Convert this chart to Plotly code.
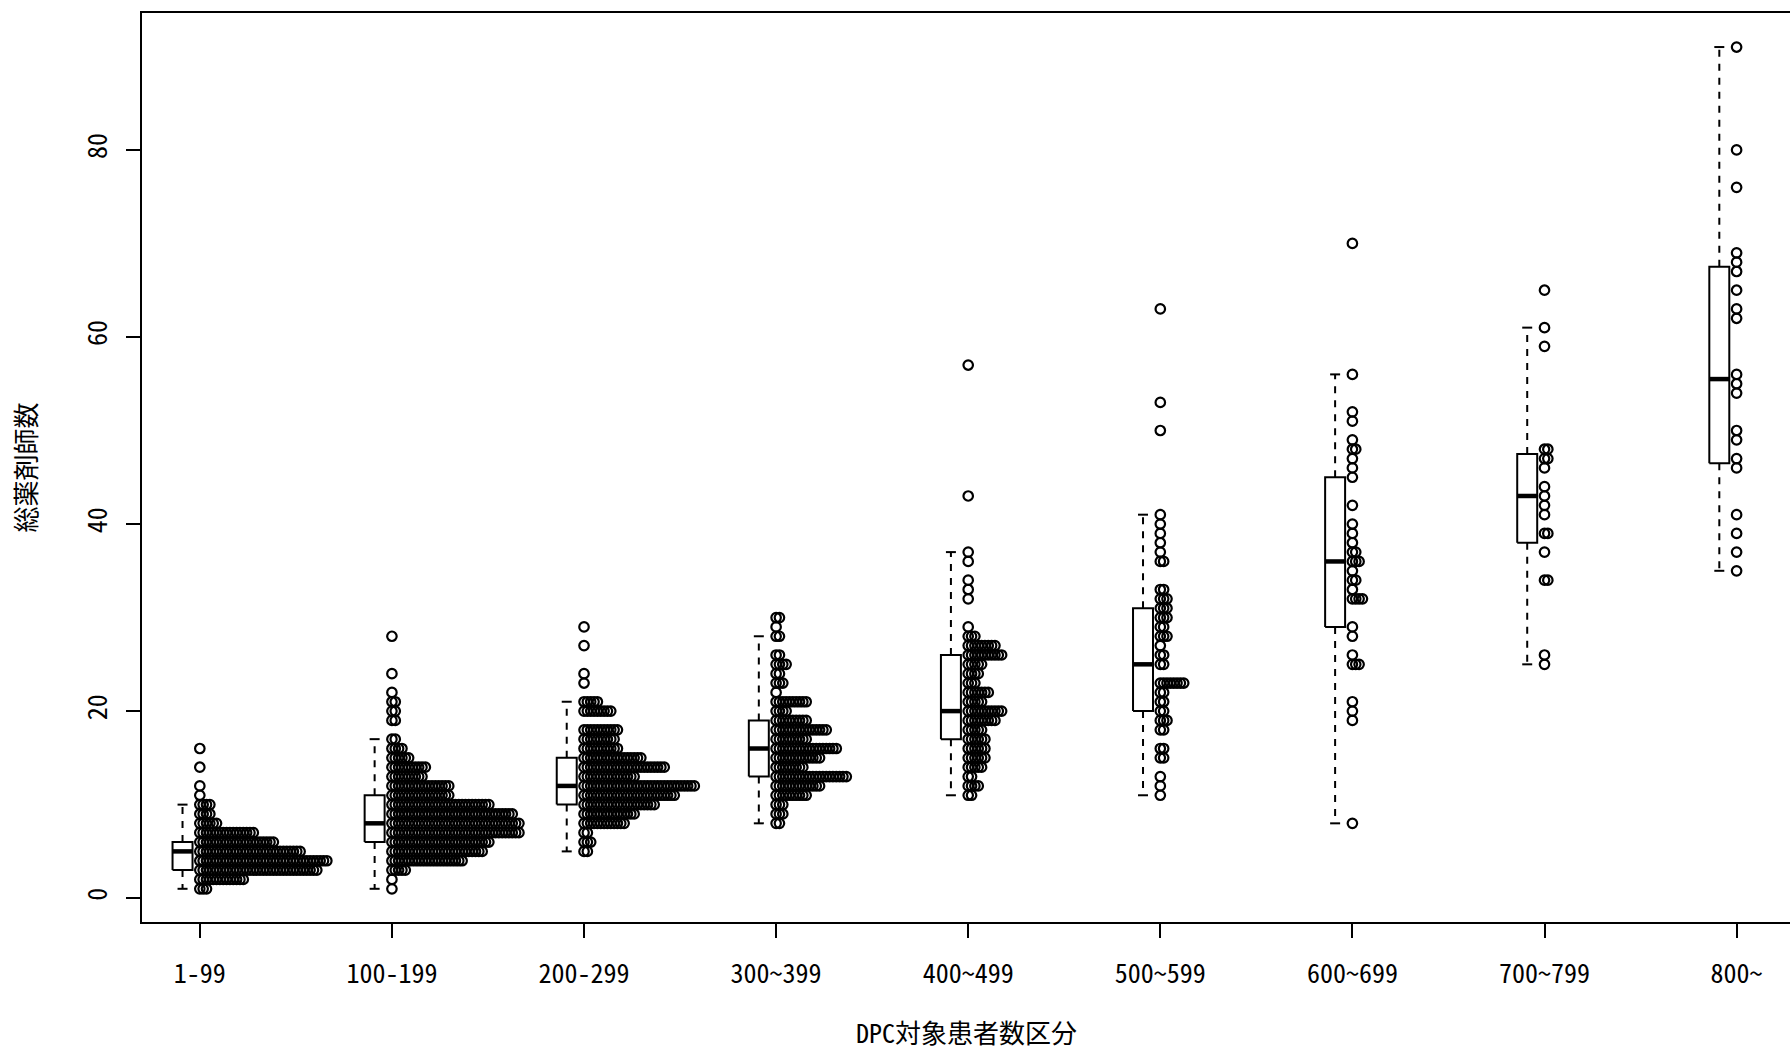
import plotly.graph_objects as go

# ---------------- data ----------------
categories = ["1-99", "100-199", "200-299", "300~399", "400~499",
              "500~599", "600~699", "700~799", "800~"]
positions = [1, 2, 3, 4, 5, 6, 7, 8, 9]

g1_values = [1, 2, 3, 4, 5, 6, 7, 8, 9, 10, 11, 12, 14, 16]
g1_counts = [3, 14, 36, 39, 31, 23, 17, 6, 4, 4, 1, 1, 1, 1]

g2_values = [1, 2, 3, 4, 5, 6, 7, 8, 9, 10, 11, 12, 13, 14, 15, 16, 17, 19, 20, 21, 22, 24, 28]
g2_counts = [1, 1, 5, 22, 28, 30, 39, 39, 37, 30, 18, 18, 10, 11, 6, 4, 2, 2, 2, 2, 1, 1, 1]

g3_values = [5, 6, 7, 8, 9, 10, 11, 12, 13, 14, 15, 16, 17, 18, 20, 21, 23, 24, 27, 29]
g3_counts = [2, 3, 2, 13, 16, 22, 28, 34, 16, 25, 18, 11, 10, 11, 9, 5, 1, 1, 1, 1]

g4_values = [8, 9, 10, 11, 12, 13, 14, 15, 16, 17, 18, 19, 20, 21, 22, 23, 24, 25, 26, 28, 29, 30]
g4_counts = [2, 3, 3, 10, 14, 22, 9, 14, 19, 10, 16, 10, 4, 10, 1, 3, 2, 4, 2, 2, 1, 2]

g5_values = [11, 12, 13, 14, 15, 16, 17, 18, 19, 20, 21, 22, 23, 24, 25, 26, 27, 28, 29,
             32, 33, 34, 36, 37, 43, 57]
g5_counts = [2, 4, 2, 5, 6, 6, 6, 5, 9, 11, 5, 7, 3, 4, 5, 11, 9, 3, 1,
             1, 1, 1, 1, 1, 1, 1]

g6_values = [11, 12, 13, 15, 16, 18, 19, 20, 21, 22, 23, 25, 26, 27, 28, 29, 30, 31, 32, 33,
             36, 37, 38, 39, 40, 41, 50, 53, 63]
g6_counts = [1, 1, 1, 2, 2, 2, 3, 2, 2, 2, 8, 2, 2, 1, 3, 2, 3, 3, 3, 2,
             2, 1, 1, 1, 1, 1, 1, 1, 1]

g7_values = [8, 19, 20, 21, 25, 26, 28, 29, 32, 33, 34, 35, 36, 37, 38, 39, 40, 42,
             45, 46, 47, 48, 49, 51, 52, 56, 70]
g7_counts = [1, 1, 1, 1, 3, 1, 1, 1, 4, 1, 2, 1, 3, 2, 1, 1, 1, 1,
             1, 1, 1, 2, 1, 1, 1, 1, 1]

g8_values = [25, 26, 34, 37, 39, 41, 42, 43, 44, 46, 47, 48, 59, 61, 65]
g8_counts = [1, 1, 2, 1, 2, 1, 1, 1, 1, 1, 2, 2, 1, 1, 1]

g9_values = [35, 37, 39, 41, 46, 47, 49, 50, 54, 55, 56, 62, 63, 65, 67, 68, 69, 76, 80, 91]
g9_counts = [1] * 20

# box statistics
whisker_low = [1, 1, 5, 8, 11, 11, 8, 25, 35]
q1 = [3, 6, 10, 13, 17, 20, 29, 38, 46.5]
median = [5, 8, 12, 16, 20, 25, 36, 43, 55.5]
q3 = [6, 11, 15, 19, 26, 31, 45, 47.5, 67.5]
whisker_high = [10, 17, 21, 28, 37, 41, 56, 61, 91]

x_title = "DPC対象患者数区分"
y_title = "総薬剤師数"
y_ticks = [0, 20, 40, 60, 80]

# ---------------- layout constants ----------------
STACK_STEP = 0.0174
BOX_OFFSET = -0.09
BOX_HALF = 0.052
STAPLE_HALF = 0.026
JP = "'Noto Sans Mono CJK JP', 'Noto Sans CJK JP', 'DejaVu Sans Mono'"

groups = [(g1_values, g1_counts), (g2_values, g2_counts), (g3_values, g3_counts),
          (g4_values, g4_counts), (g5_values, g5_counts), (g6_values, g6_counts),
          (g7_values, g7_counts), (g8_values, g8_counts), (g9_values, g9_counts)]

fig = go.Figure()

# stacked strip points (stripchart method="stack")
px, py = [], []
for pos, (vals, cnts) in zip(positions, groups):
    for v, c in zip(vals, cnts):
        for k in range(c):
            px.append(pos + k * STACK_STEP)
            py.append(v)
fig.add_trace(go.Scatter(
    x=px, y=py, mode="markers", hoverinfo="skip",
    marker=dict(symbol="circle-open", size=9.5, color="black",
                line=dict(color="black", width=2.2)),
    showlegend=False))

# boxes
rx, ry, mx, my, wx, wy, sx, sy = [], [], [], [], [], [], [], []
for i, pos in enumerate(positions):
    c = pos + BOX_OFFSET
    rx += [c - BOX_HALF, c + BOX_HALF, c + BOX_HALF, c - BOX_HALF, c - BOX_HALF, None]
    ry += [q1[i], q1[i], q3[i], q3[i], q1[i], None]
    mx += [c - BOX_HALF, c + BOX_HALF, None]
    my += [median[i], median[i], None]
    wx += [c, c, None, c, c, None]
    wy += [q3[i], whisker_high[i], None, q1[i], whisker_low[i], None]
    sx += [c - STAPLE_HALF, c + STAPLE_HALF, None, c - STAPLE_HALF, c + STAPLE_HALF, None]
    sy += [whisker_high[i], whisker_high[i], None, whisker_low[i], whisker_low[i], None]

fig.add_trace(go.Scatter(x=wx, y=wy, mode="lines", hoverinfo="skip", showlegend=False,
                         line=dict(color="black", width=2, dash="7px,7px")))
fig.add_trace(go.Scatter(x=sx, y=sy, mode="lines", hoverinfo="skip", showlegend=False,
                         line=dict(color="black", width=2)))
fig.add_trace(go.Scatter(x=rx, y=ry, mode="lines", hoverinfo="skip", showlegend=False,
                         line=dict(color="black", width=2)))
fig.add_trace(go.Scatter(x=mx, y=my, mode="lines", hoverinfo="skip", showlegend=False,
                         line=dict(color="black", width=4.5)))

fig.update_layout(
    width=1790, height=1051, autosize=False,
    margin=dict(l=142, r=0, t=13, b=129),
    paper_bgcolor="white", plot_bgcolor="white",
    font=dict(family=JP, color="black", size=26),
    xaxis=dict(range=[0.699, 9.278], tickmode="array", tickvals=positions,
               ticktext=categories, ticks="outside", ticklen=14, tickwidth=2,
               tickcolor="black", showline=True, linewidth=2, linecolor="black",
               mirror=True, showgrid=False, zeroline=False,
               tickfont=dict(family=JP, size=26), ticklabelstandoff=14),
    yaxis=dict(range=[-2.55, 94.64], tickmode="array", tickvals=y_ticks,
               ticks="outside", ticklen=14, tickwidth=2, tickcolor="black",
               showline=True, linewidth=2, linecolor="black", mirror=False,
               showgrid=False, zeroline=False, tickangle=-90,
               tickfont=dict(family=JP, size=26), ticklabelstandoff=9),
    annotations=[
        dict(text=x_title, xref="paper", yref="paper", x=0.5, y=-0.121,
             xanchor="center", yanchor="middle", showarrow=False,
             font=dict(family=JP, size=26)),
        dict(text=y_title, xref="paper", yref="paper", x=-0.071, y=0.5,
             xanchor="center", yanchor="middle", showarrow=False, textangle=-90,
             font=dict(family=JP, size=26)),
    ],
)

fig.write_html(
    "out.html",
    config={"displayModeBar": False},
    post_script="document.body.style.margin='0px';document.body.style.overflow='hidden';",
)
